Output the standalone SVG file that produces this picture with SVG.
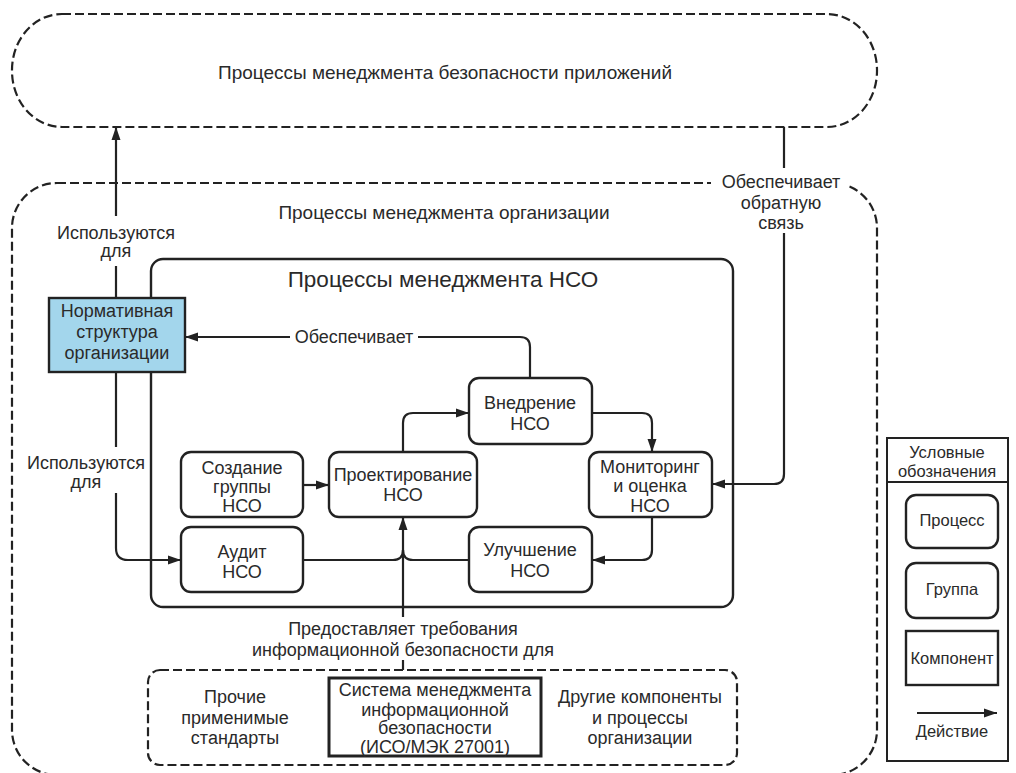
<svg xmlns="http://www.w3.org/2000/svg" width="1016" height="773" viewBox="0 0 1016 773">
<defs>
<marker id="arr" markerUnits="userSpaceOnUse" markerWidth="14" markerHeight="10" refX="13" refY="5" orient="auto">
<path d="M0,0.5 L13,5 L0,9.5 z" fill="#222"/>
</marker>
<style>
text{font-family:"Liberation Sans",Arial,sans-serif;fill:#2a2a2a;text-anchor:middle}
.t{font-size:19px}
.n{font-size:18px}
.l{font-size:18px}
.h{font-size:22.5px}
.g{font-size:16.5px}
.dash{fill:none;stroke:#222;stroke-width:2.2;stroke-dasharray:9 4}
.box{fill:#fff;stroke:#222;stroke-width:2.4}
.c{fill:none;stroke:#222;stroke-width:2.2}
</style>
</defs>
<rect width="1016" height="773" fill="#fff"/>

<g id="app-processes">
<rect class="dash" x="12" y="14" width="865" height="113" rx="50" ry="56"/>
<text class="t" x="445" y="79">Процессы менеджмента безопасности приложений</text>
</g>

<g id="org-processes">
<rect class="dash" x="12" y="183" width="865" height="592" rx="45" ry="45"/>
<rect x="711" y="172" width="136" height="24" fill="#fff"/>
<text class="t" x="444" y="219">Процессы менеджмента организации</text>
</g>

<g id="isms-processes">
<rect x="151" y="259" width="582" height="348" rx="12" fill="none" stroke="#222" stroke-width="2.4"/>
<text class="h" x="443" y="287">Процессы менеджмента НСО</text>
</g>

<g id="normative">
<rect x="49" y="298" width="136" height="74" fill="#a3d6ec" stroke="#222" stroke-width="2.4"/>
<text class="n" x="117" y="317">Нормативная</text>
<text class="n" x="117" y="338">структура</text>
<text class="n" x="117" y="359">организации</text>
</g>

<g id="implement">
<rect class="box" x="469" y="378" width="123" height="66" rx="10"/>
<text class="n" x="530" y="409">Внедрение</text>
<text class="n" x="530" y="430">НСО</text>
</g>

<g id="create-group">
<rect class="box" x="181" y="452" width="122" height="65" rx="10"/>
<text class="n" x="242" y="474">Создание</text>
<text class="n" x="242" y="493">группы</text>
<text class="n" x="242" y="512">НСО</text>
</g>

<g id="design">
<rect class="box" x="329" y="452" width="148" height="65" rx="10"/>
<text class="n" x="403" y="481">Проектирование</text>
<text class="n" x="403" y="501">НСО</text>
</g>

<g id="monitoring">
<rect class="box" x="589" y="452" width="123" height="65" rx="10"/>
<text class="n" x="650" y="473">Мониторинг</text>
<text class="n" x="650" y="492">и оценка</text>
<text class="n" x="650" y="512">НСО</text>
</g>

<g id="audit">
<rect class="box" x="181" y="527" width="122" height="65" rx="10"/>
<text class="n" x="242" y="558">Аудит</text>
<text class="n" x="242" y="578">НСО</text>
</g>

<g id="improve">
<rect class="box" x="469" y="527" width="123" height="65" rx="10"/>
<text class="n" x="530" y="556">Улучшение</text>
<text class="n" x="530" y="577">НСО</text>
</g>

<g id="sources">
<rect class="dash" x="148" y="670" width="589" height="95" rx="12" ry="12"/>
<text class="n" x="235" y="703">Прочие</text>
<text class="n" x="235" y="724">применимые</text>
<text class="n" x="235" y="744">стандарты</text>
<text class="n" x="640" y="703">Другие компоненты</text>
<text class="n" x="640" y="724">и процессы</text>
<text class="n" x="640" y="744">организации</text>
</g>

<g id="isms-27001">
<rect x="329" y="678" width="212" height="78" fill="#fff" stroke="#222" stroke-width="3"/>
<text class="n" x="435" y="696">Система менеджмента</text>
<text class="n" x="435" y="716">информационной</text>
<text class="n" x="435" y="734">безопасности</text>
<text class="n" x="435" y="753">(ИСО/МЭК 27001)</text>
</g>

<g id="connectors">
<path class="c" d="M116,298 V266"/>
<path class="c" d="M116,216 V127" marker-end="url(#arr)"/>
<text class="l" x="116" y="239">Используются</text>
<text class="l" x="116" y="257">для</text>

<path class="c" d="M116,372 V447"/>
<path class="c" d="M116,493 V548 Q116,560 128,560 H181" marker-end="url(#arr)"/>
<text class="l" x="86" y="469">Используются</text>
<text class="l" x="86" y="488">для</text>

<path class="c" d="M530,378 V347 Q530,337 520,337 H418"/>
<path class="c" d="M290,337 H185" marker-end="url(#arr)"/>
<text class="l" x="354" y="343">Обеспечивает</text>

<path class="c" d="M784,127 V168"/>
<path class="c" d="M784,233 V474 Q784,484 774,484 H712" marker-end="url(#arr)"/>
<text class="l" x="781" y="188">Обеспечивает</text>
<text class="l" x="781" y="209">обратную</text>
<text class="l" x="781" y="229">связь</text>

<path class="c" d="M303,485 H329" marker-end="url(#arr)"/>
<path class="c" d="M403,452 V423 Q403,413 413,413 H469" marker-end="url(#arr)"/>
<path class="c" d="M592,413 H642 Q652,413 652,423 V452" marker-end="url(#arr)"/>
<path class="c" d="M652,517 V550 Q652,560 642,560 H592" marker-end="url(#arr)"/>
<path class="c" d="M469,560 H413 Q403,560 403,550"/>
<path class="c" d="M303,560 H393 Q403,560 403,550"/>
<path class="c" d="M403,617 V517" marker-end="url(#arr)"/>
<path class="c" d="M403,660 V670"/>
<text class="l" x="403" y="635">Предоставляет требования</text>
<text class="l" x="403" y="656">информационной безопасности для</text>
</g>

<g id="legend">
<rect x="887" y="438" width="121" height="323" fill="#fff" stroke="#222" stroke-width="2"/>
<line x1="887" y1="482" x2="1008" y2="482" stroke="#222" stroke-width="2"/>
<text class="g" x="947" y="458">Условные</text>
<text class="g" x="947" y="477">обозначения</text>
<rect class="box" x="906" y="495" width="92" height="53" rx="10"/>
<text class="g" x="952" y="526">Процесс</text>
<rect class="box" x="906" y="563" width="92" height="55" rx="10"/>
<text class="g" x="952" y="595">Группа</text>
<rect class="box" x="906" y="631" width="92" height="54"/>
<text class="g" x="952" y="664">Компонент</text>
<path class="c" d="M917,713 H997" marker-end="url(#arr)"/>
<text class="g" x="952" y="737">Действие</text>
</g>
</svg>
